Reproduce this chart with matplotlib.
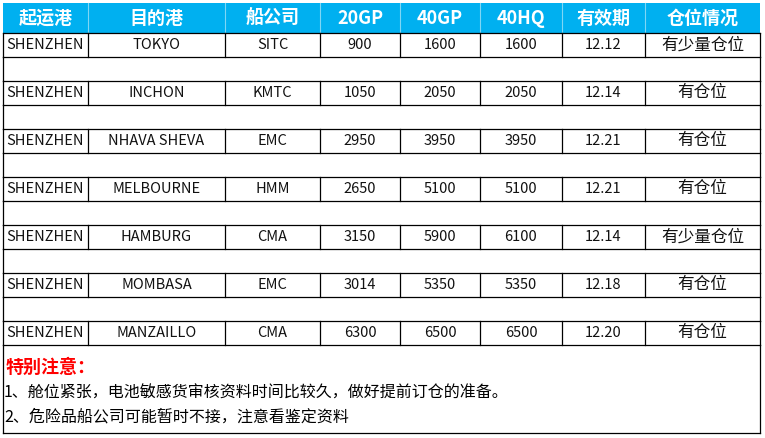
import matplotlib
matplotlib.use("Agg")
import matplotlib.pyplot as plt
from matplotlib.patches import Rectangle

headers = ["起运港", "目的港", "船公司", "20GP", "40GP", "40HQ", "有效期", "仓位情况"]
origin = ["SHENZHEN"] * 7
dest = ["TOKYO", "INCHON", "NHAVA SHEVA", "MELBOURNE", "HAMBURG", "MOMBASA", "MANZAILLO"]
carrier = ["SITC", "KMTC", "EMC", "HMM", "CMA", "EMC", "CMA"]
gp20 = [900, 1050, 2950, 2650, 3150, 3014, 6300]
gp40 = [1600, 2050, 3950, 5100, 5900, 5350, 6500]
hq40 = [1600, 2050, 3950, 5100, 6100, 5350, 6500]
valid = ["12.12", "12.14", "12.21", "12.21", "12.14", "12.18", "12.20"]
space = ["有少量仓位", "有仓位", "有仓位", "有仓位", "有少量仓位", "有仓位", "有仓位"]
note_title = "特别注意："
notes = ["1、舱位紧张，电池敏感货审核资料时间比较久，做好提前订仓的准备。",
         "2、危险品船公司可能暂时不接，注意看鉴定资料"]

F = "Noto Sans CJK SC"
fig = plt.figure(figsize=(7.65, 4.38), dpi=100)
ax = fig.add_axes([0, 0, 1, 1])
ax.set_xlim(0, 765); ax.set_ylim(438, 0); ax.axis("off")

xs = [3, 88, 225, 320, 400, 480, 562, 645, 760]
top, hh, rh = 3, 30, 24
# header
ax.add_patch(Rectangle((xs[0], top), xs[-1] - xs[0], hh, color="#00B0F0", lw=0))
for i, h in enumerate(headers):
    ax.text((xs[i] + xs[i+1]) / 2, top + hh / 2, h, color="white", fontsize=13,
            fontweight="bold", family=F, ha="center", va="center")
for x in xs[1:-1]:
    ax.plot([x, x], [top, top + hh], color="#7fd6f5", lw=0.8)

y = top + hh
lk = dict(color="black", lw=0.9)
ax.plot([xs[0], xs[-1]], [y, y], **lk)
for r in range(7):
    vals = [origin[r], dest[r], carrier[r], str(gp20[r]), str(gp40[r]), str(hq40[r]), valid[r], space[r]]
    for i, v in enumerate(vals):
        fs = 12 if i == 7 else 10.5
        ax.text((xs[i] + xs[i+1]) / 2, y + rh / 2, v, fontsize=fs, family=F,
                ha="center", va="center", color="#111111")
    for x in xs:
        ax.plot([x, x], [y, y + rh], **lk)
    y += rh
    ax.plot([xs[0], xs[-1]], [y, y], **lk)
    if r < 6:
        ax.plot([xs[0], xs[0]], [y, y + rh], **lk)
        ax.plot([xs[-1], xs[-1]], [y, y + rh], **lk)
        y += rh
        ax.plot([xs[0], xs[-1]], [y, y], **lk)

ax.text(6, y + 22, note_title, fontsize=13, fontweight="bold", color="#FF0000",
        family=F, va="center")
ax.text(4, y + 48, notes[0], fontsize=11.5, family=F, va="center")
ax.text(4, y + 72, notes[1], fontsize=11.5, family=F, va="center")
bottom = y + 88
ax.plot([xs[0], xs[0]], [y, bottom], **lk)
ax.plot([xs[-1], xs[-1]], [y, bottom], **lk)
ax.plot([xs[0], xs[-1]], [bottom, bottom], **lk)

fig.savefig("out.png", dpi=100)
